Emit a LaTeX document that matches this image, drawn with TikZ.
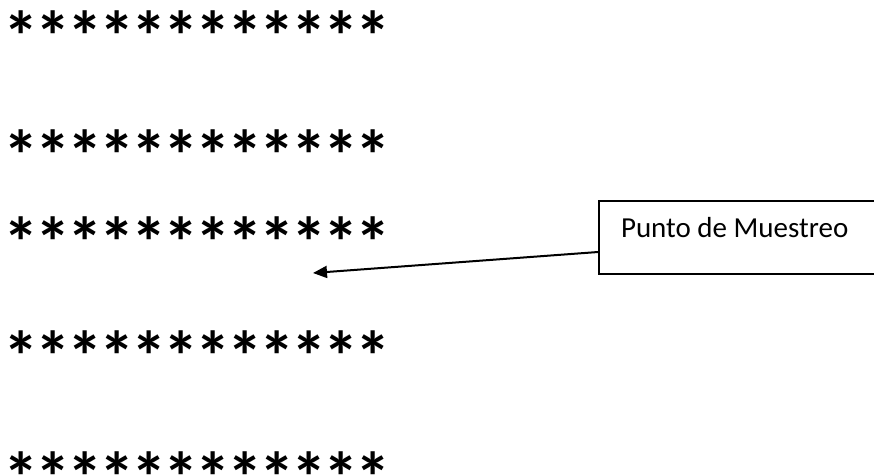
\documentclass[tikz,border=0pt]{standalone}
\usepackage{fontspec}
\setmainfont{Carlito}
\usetikzlibrary{arrows.meta}

\tikzset{every picture/.style={line width=2pt}}
\tikzset{
  starmark/.style={inner sep=0pt, font=\fontsize{71}{71}\selectfont\bfseries},
  callout/.style={draw, inner sep=0pt, anchor=north west, minimum width=300pt, minimum height=73pt},
  calltext/.style={anchor=base west, inner sep=0pt, font=\fontsize{29}{29}\selectfont}
}

\begin{document}
\begin{tikzpicture}[x=1pt,y=1pt,yscale=-1]
    \useasboundingbox (0,0) rectangle (874,475);
    \clip (0,0) rectangle (874,475);

    % Rows of asterisks
    \foreach \r/\yy in {1/36, 2/155, 3/242, 4/356, 5/477} {
      \foreach \c in {0,...,11} {
        \node [starmark] (s\r-\c) at ({21.5+32*\c},\yy) {*};
      }
    }

    %Shape: Rectangle
    \node [callout] (box) at (598,200) {};

    % Text Node
    \node [calltext] (lbl) at (620,237) {Punto de Muestreo};

    %Straight Lines
    \coordinate (spot) at (313,273);
    \draw [-{Triangle[length=14pt,width=12pt]}] ([yshift=-23pt]box.south west) -- (spot);

\end{tikzpicture}
\end{document}
